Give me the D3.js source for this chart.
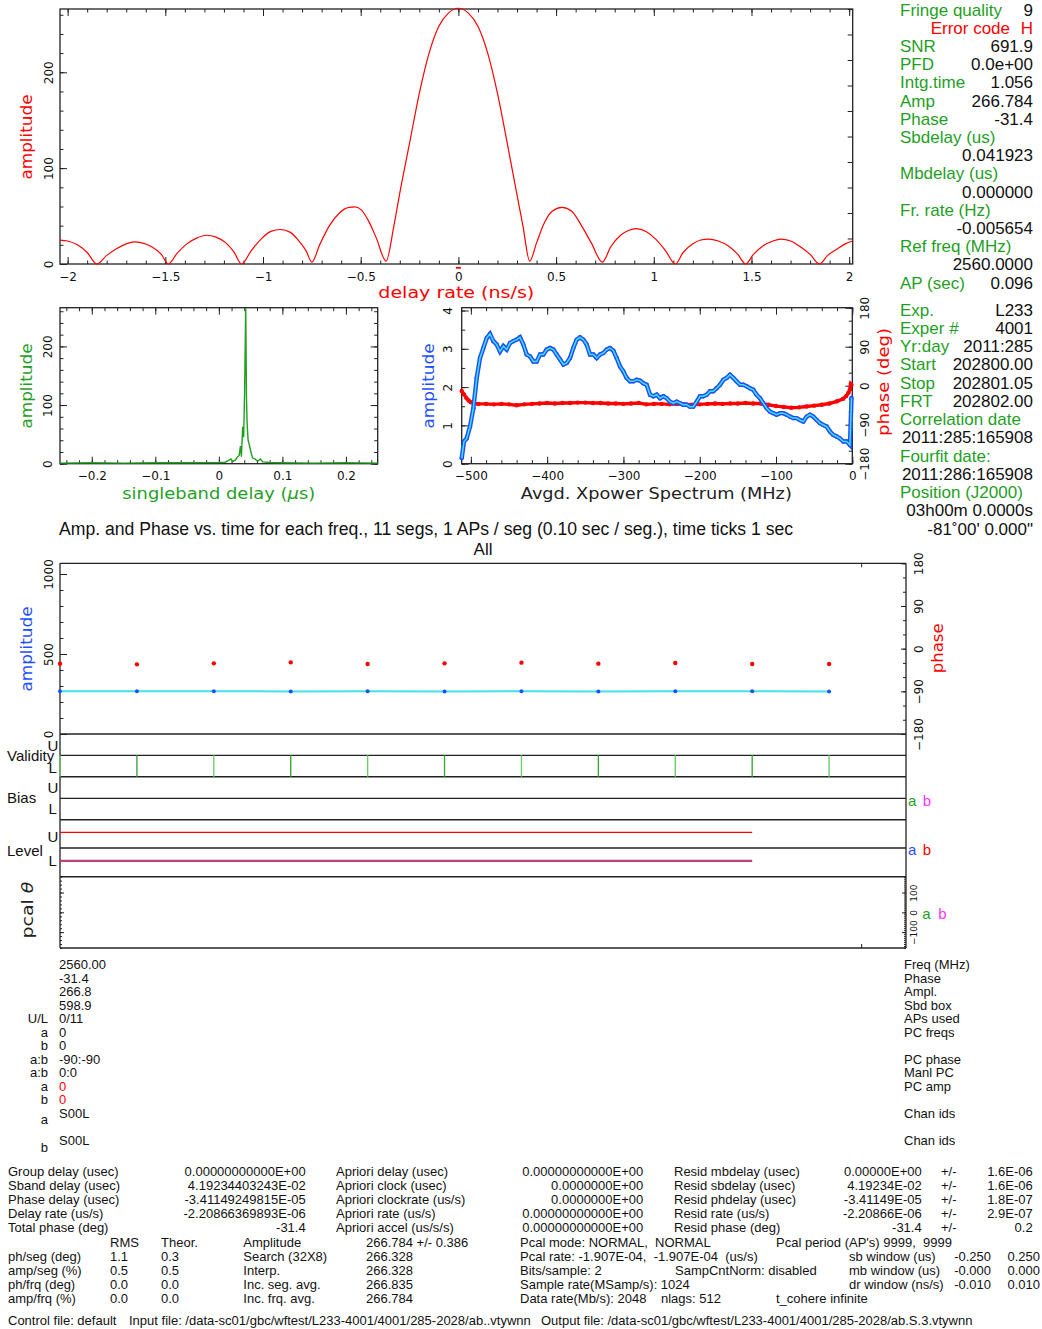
<!DOCTYPE html>
<html>
<head>
<meta charset="utf-8">
<script src="https://cdn.jsdelivr.net/npm/d3@7"></script>
<style>
  body { margin: 0; background: #fff; }
  svg { display: block; }
</style>
</head>
<body>
<script>
// ---- data ----
// delay-rate function (ns/s vs amplitude)
const rateX = [-2.039,-2.0,-1.95,-1.9,-1.85,-1.8,-1.75,-1.7,-1.66,-1.62,-1.57,-1.52,-1.485,-1.44,-1.39,-1.34,-1.29,-1.24,-1.19,-1.15,
  -1.11,-1.06,-1.01,-0.96,-0.91,-0.86,-0.82,-0.78,-0.75,-0.71,-0.66,-0.61,-0.56,-0.53,-0.5,-0.46,-0.42,-0.37,-0.33,-0.3,
  -0.25,-0.2,-0.15,-0.1,-0.05,0,0.05,0.1,0.15,0.2,0.25,0.3,0.33,0.365,0.4,0.44,0.48,0.53,0.58,0.63,
  0.68,0.737,0.78,0.83,0.87,0.91,0.96,1.01,1.06,1.11,1.15,1.2,1.24,1.28,1.33,1.38,1.43,1.47,1.51,1.56,
  1.61,1.65,1.7,1.75,1.8,1.848,1.89,1.94,1.98,2.018];
const rateAmp = [25,24,20,12,0,9,16,21,23,22,18,10,0,11,21,27,30,28,22,13,
  0,14,26,34,36,33,25,14,2,20,40,53,59,59.5,57,45,27,3,40,74,
  126,178,220,248,262,266.8,262,248,220,178,126,72,40,3,22,43,55,59,55,40,
  22,2,18,30,35,37,34,26,14,0,12,21,25,26,24,19,10,0,10,19,
  24,26,24,18,10,0,9,16,21,24];

// singleband delay function (us vs amplitude)
const sbdX = [-0.25,-0.2,-0.15,-0.1,-0.05,0,0.01,0.016,0.019,0.022,0.026,0.029,0.032,0.034,0.0355,0.0375,0.039,0.0405,0.0423,
  0.0435,0.0445,0.046,0.048,0.05,0.053,0.057,0.061,0.0655,0.069,0.08,0.1,0.15,0.2,0.25];
const sbdAmp = [1,1.5,1,1.5,1.5,2,2.5,6,8,4,6,11,14,30,12,63,45,120,266,
  110,69,40,32,22,10,8,4,8,3,2,1.5,1,1.5,1];

// averaged cross-power spectrum (MHz vs amplitude)
const specMHz = [-512,-509,-505.5,-501.1,-496.7,-492.3,-488.0,-483.6,-479.2,-474.9,-470.5,-466.1,-461.8,-457.4,-453.0,-448.7,
  -444.3,-439.9,-435.6,-431.2,-426.8,-422.4,-418.1,-413.7,-409.3,-405.0,-400.6,-396.2,-391.9,-387.5,-383.1,-378.8,
  -374.4,-370.0,-365.7,-361.3,-356.9,-352.6,-348.2,-343.8,-339.4,-335.1,-330.7,-326.3,-322.0,-317.6,-313.2,-308.9,
  -304.5,-300.1,-295.8,-291.4,-287.0,-282.6,-278.3,-273.9,-269.5,-265.2,-260.8,-256.4,-252.1,-247.7,-243.3,-239.0,
  -234.6,-230.2,-225.9,-221.5,-217.1,-212.8,-208.4,-204.0,-199.6,-195.3,-190.9,-186.5,-182.2,-177.8,-173.4,-169.1,
  -164.7,-160.3,-156.0,-151.6,-147.2,-142.9,-138.5,-134.1,-129.8,-125.4,-121.0,-116.6,-112.3,-107.9,-103.5,-99.2,
  -94.8,-90.4,-86.1,-81.7,-77.3,-73.0,-68.6,-64.2,-59.8,-55.5,-51.1,-46.7,-42.4,-38.0,-33.6,-29.3,
  -24.9,-20.5,-16.2,-11.8,-7.4,-3.1,-1.0];
const specAmp = [0.14,0.58,0.66,0.97,1.45,2.24,2.76,3.02,3.28,3.39,3.20,3.11,2.93,3.07,2.98,3.15,
  3.20,3.24,3.30,3.11,2.85,2.80,2.67,2.67,2.85,2.85,2.98,3.02,2.98,2.85,2.72,2.59,
  2.63,2.76,3.02,3.24,3.30,3.24,3.11,2.85,2.85,2.76,2.85,2.89,2.98,3.02,2.95,2.76,
  2.54,2.41,2.24,2.15,2.15,2.19,2.17,2.10,2.06,1.80,1.76,1.80,1.71,1.76,1.71,1.62,
  1.58,1.62,1.58,1.54,1.54,1.49,1.49,1.62,1.76,1.76,1.80,1.89,1.89,1.97,2.06,2.19,
  2.24,2.32,2.24,2.15,2.06,2.06,2.02,1.97,1.93,1.80,1.71,1.58,1.45,1.36,1.32,1.28,
  1.32,1.32,1.28,1.23,1.19,1.19,1.14,1.10,1.23,1.28,1.23,1.14,1.06,1.01,0.97,0.84,
  0.75,0.71,0.66,0.58,0.58,0.49,1.72];
// spectrum phase (MHz vs deg)
const phMHz = [-512,-509,-506,-503,-500,-496,-490,-480,-470,-460,-450,-440,-430,-420,-410,-400,-390,-380,-370,-360,
  -350,-340,-330,-320,-310,-300,-290,-280,-270,-260,-250,-240,-230,-220,-210,-200,-190,-180,-170,-160,
  -150,-140,-130,-120,-110,-100,-90,-80,-70,-60,-50,-40,-30,-20,-12,-8,-5,-3,-2,-1];
const phDeg = [-12,-20,-28,-34,-38,-41,-42,-42,-43,-42,-43,-45,-43,-42,-41,-40,-41,-40,-40,-39,
  -39,-40,-40,-41,-41,-42,-41,-40,-43,-42,-42,-43,-42,-43,-44,-43,-42,-41,-42,-41,
  -41,-40,-41,-41,-44,-47,-49,-51,-50,-48,-46,-44,-41,-36,-30,-24,-16,-8,4,2];

// per-segment values (11 segs of 0.096 s)
const segTime = [0, 0.096, 0.192, 0.288, 0.384, 0.48, 0.576, 0.672, 0.768, 0.864, 0.96];
const segAmp = [266.5, 266.9, 267.6, 266.3, 266.8, 265.9, 267.1, 266.0, 267.2, 266.6, 266.4];
const segPhase = [-31.6, -33.1, -31.0, -28.9, -32.3, -31.0, -29.5, -31.6, -30.2, -32.3, -32.3];
const segValidL = [1, 1, 1, 1, 1, 1, 1, 1, 1, 1, 1];
const levelU = [0.55, 0.55, 0.55, 0.55, 0.55, 0.55, 0.55, 0.55, 0.55, 0.55];
const levelL = [0.55, 0.55, 0.55, 0.55, 0.55, 0.55, 0.55, 0.55, 0.55, 0.55];

// text blocks
const fitLabels = ['Fringe quality', 'Error code', 'SNR', 'PFD', 'Intg.time', 'Amp', 'Phase', 'Sbdelay (us)', '',
  'Mbdelay (us)', '', 'Fr. rate (Hz)', '', 'Ref freq (MHz)', '', 'AP (sec)'];
const fitValues = ['9', 'H', '691.9', '0.0e+00', '1.056', '266.784', '-31.4', '', '0.041923',
  '', '0.000000', '', '-0.005654', '', '2560.0000', '0.096'];
const expLabels = ['Exp.', 'Exper #', 'Yr:day', 'Start', 'Stop', 'FRT', 'Correlation date', '', 'Fourfit date:', '',
  'Position (J2000)', '', ''];
const expValues = ['L233', '4001', '2011:285', '202800.00', '202801.05', '202802.00', '', '2011:285:165908', '',
  '2011:286:165908', '', '03h00m 0.0000s', '-81\u02DA00\' 0.000"'];

const chanLeft = ['', '', '', '', 'U/L', 'a', 'b', 'a:b', 'a:b', 'a', 'b'];
const chanVals = ['2560.00', '-31.4', '266.8', '598.9', '0/11', '0', '0', '-90:-90', '0:0', '0', '0'];
const chanRight = ['Freq (MHz)', 'Phase', 'Ampl.', 'Sbd box', 'APs used', 'PC freqs', '', 'PC phase', 'Manl PC', 'PC amp', ''];
const chanIds = [['a', 'S00L'], ['b', 'S00L']];

const resultRows = [
  ['Group delay (usec)', '0.00000000000E+00', 'Apriori delay (usec)', '0.00000000000E+00', 'Resid mbdelay (usec)', '0.00000E+00', '1.6E-06'],
  ['Sband delay (usec)', '4.19234403243E-02', 'Apriori clock (usec)', '0.0000000E+00', 'Resid sbdelay (usec)', '4.19234E-02', '1.6E-06'],
  ['Phase delay (usec)', '-3.41149249815E-05', 'Apriori clockrate (us/s)', '0.0000000E+00', 'Resid phdelay (usec)', '-3.41149E-05', '1.8E-07'],
  ['Delay rate (us/s)', '-2.20866369893E-06', 'Apriori rate (us/s)', '0.00000000000E+00', 'Resid rate (us/s)', '-2.20866E-06', '2.9E-07'],
  ['Total phase (deg)', '-31.4', 'Apriori accel (us/s/s)', '0.00000000000E+00', 'Resid phase (deg)', '-31.4', '0.2']
];
const qualityRows = [
  ['', 'RMS', 'Theor.', 'Amplitude', '266.784 +/- 0.386'],
  ['ph/seg (deg)', '1.1', '0.3', 'Search (32X8)', '266.328'],
  ['amp/seg (%)', '0.5', '0.5', 'Interp.', '266.328'],
  ['ph/frq (deg)', '0.0', '0.0', 'Inc. seg. avg.', '266.835'],
  ['amp/frq (%)', '0.0', '0.0', 'Inc. frq. avg.', '266.784']
];
const setupRows = [
  ['Pcal mode: NORMAL,  NORMAL', "Pcal period (AP's) 9999,  9999"],
  ['Pcal rate: -1.907E-04,  -1.907E-04  (us/s)'],
  ['Bits/sample: 2', 'SampCntNorm: disabled'],
  ['Sample rate(MSamp/s): 1024'],
  ['Data rate(Mb/s): 2048', 'nlags: 512', 't_cohere infinite']
];
const windowRows = [['sb window (us)', '-0.250', '0.250'], ['mb window (us)', '-0.000', '0.000'], ['dr window (ns/s)', '-0.010', '0.010']];
const fileLine = ['Control file: default',
  'Input file: /data-sc01/gbc/wftest/L233-4001/4001/285-2028/ab..vtywnn',
  'Output file: /data-sc01/gbc/wftest/L233-4001/4001/285-2028/ab.S.3.vtywnn'];
const plotTitle = 'Amp. and Phase vs. time for each freq., 11 segs, 1 APs / seg (0.10 sec / seg.), time ticks 1 sec';

// ---- drawing ----
const plotFont = "'DejaVu Sans', sans-serif";
const textFont = "'Liberation Sans', Arial, sans-serif";
const GREEN = '#1f9f1f', RED = '#ff0000', BLUE = '#1f4fff', CYAN = '#40e2ea', MAGENTA = '#ff33ff';

const svg = d3.select('body').append('svg').attr('width', 1042).attr('height', 1329);

function box(x0, y0, x1, y1) {
  svg.append('rect').attr('x', x0).attr('y', y0).attr('width', x1 - x0).attr('height', y1 - y0)
    .attr('fill', 'none').attr('stroke', '#222').attr('stroke-width', 1.3);
}

function hline(y, x0, x1, w) {
  svg.append('line').attr('x1', x0).attr('x2', x1).attr('y1', y).attr('y2', y)
    .attr('stroke', '#222').attr('stroke-width', w || 1.3);
}

// inward PGPLOT-like ticks
function axis(scale, side, at, majors, minors, o = {}) {
  const make = {bottom: d3.axisBottom, top: d3.axisTop, left: d3.axisLeft, right: d3.axisRight}[side];
  const tr = (side === 'bottom' || side === 'top') ? `translate(0,${at})` : `translate(${at},0)`;
  const tidy = s => { s.select('.domain').remove(); s.style('color', '#222'); };
  if (minors) {
    svg.append('g').attr('transform', tr)
      .call(make(scale).tickValues(minors).tickSize(-(o.minor || 3.5)).tickFormat(''))
      .call(tidy);
  }
  const a = svg.append('g').attr('transform', tr)
    .call(make(scale).tickValues(majors).tickSize(-(o.major || 7)).tickPadding(o.pad || 8.5)
      .tickFormat(o.labels ? (o.fmt || d3.format('')) : ''))
    .call(tidy);
  a.selectAll('text').style('font-family', plotFont).style('font-size', (o.size || 12) + 'px').style('fill', '#111');
  if (o.rotate) {
    a.selectAll('text').attr('transform', 'rotate(-90)').attr('x', 0).attr('dy', 0)
      .attr('y', side === 'left' ? -o.rotate : o.rotate).attr('text-anchor', 'middle');
  }
  return a;
}

function axisTitle(x, y, color, len, rotated, size) {
  const t = svg.append('text').attr('fill', color)
    .style('font-family', plotFont).style('font-size', (size || 16) + 'px')
    .attr('text-anchor', 'middle').attr('textLength', len).attr('lengthAdjust', 'spacingAndGlyphs');
  if (rotated) t.attr('transform', `translate(${x},${y}) rotate(-90)`);
  else t.attr('x', x).attr('y', y);
  return t;
}

function txt(s, x, y, o = {}) {
  return svg.append('text').attr('x', x).attr('y', y).text(s)
    .attr('text-anchor', o.anchor || 'start').attr('fill', o.color || '#111')
    .style('font-family', o.font || textFont).style('font-size', (o.size || 13) + 'px')
    .style('white-space', 'pre');
}

// ===== delay rate panel =====
{
  const x = d3.scaleLinear().domain([-2.039, 2.018]).range([60, 852.7]);
  const y = d3.scaleLinear().domain([0, 266]).range([264, 9]);
  const yr = d3.scaleLinear().domain([0, 10]).range([264, 9]);
  box(60, 9, 852.7, 264);
  axis(x, 'bottom', 264, d3.range(-2, 2.01, 0.5), d3.range(-2, 2.01, 0.1), {labels: true});
  axis(x, 'top', 9, d3.range(-2, 2.01, 0.5), d3.range(-2, 2.01, 0.1));
  axis(y, 'left', 60, [0, 100, 200], d3.range(0, 261, 20), {labels: true, rotate: 6.7});
  axis(yr, 'right', 852.7, d3.range(1, 10.1, 1), null, {major: 5});
  const pts = rateX.map((d, i) => [d, rateAmp[i]]);
  svg.append('path').datum(pts)
    .attr('d', d3.line().x(d => x(d[0])).y(d => y(d[1])).curve(d3.curveMonotoneX))
    .attr('fill', 'none').attr('stroke', RED).attr('stroke-width', 1.2);
  const peak = pts[d3.maxIndex(pts, d => d[1])];
  svg.append('line').attr('x1', x(peak[0]) - 2.5).attr('x2', x(peak[0]) + 2.5).attr('y1', 267.8).attr('y2', 267.8)
    .attr('stroke', RED).attr('stroke-width', 1.8);
  axisTitle(32, 137, RED, 85, true).text('amplitude');
  axisTitle(456.3, 298, RED, 156).text('delay rate (ns/s)');
}

// ===== singleband delay panel =====
{
  const x = d3.scaleLinear().domain([-0.25, 0.25]).range([60, 377.7]);
  const y = d3.scaleLinear().domain([0, 266]).range([463.7, 307.7]);
  box(60, 307.7, 377.7, 463.7);
  axis(x, 'bottom', 463.7, [-0.2, -0.1, 0, 0.1, 0.2], d3.range(-0.24, 0.25, 0.02), {labels: true, pad: 8});
  axis(x, 'top', 307.7, [-0.2, -0.1, 0, 0.1, 0.2], d3.range(-0.24, 0.25, 0.02));
  axis(y, 'left', 60, [0, 100, 200], d3.range(0, 261, 20), {labels: true, rotate: 8.3});
  axis(y, 'right', 377.7, [0, 100, 200], d3.range(0, 261, 20));
  svg.append('path').datum(sbdX.map((d, i) => [d, sbdAmp[i]]))
    .attr('d', d3.line().x(d => x(d[0])).y(d => y(d[1])))
    .attr('fill', 'none').attr('stroke', GREEN).attr('stroke-width', 1.4);
  axisTitle(32, 386, GREEN, 85, true).text('amplitude');
  const t = axisTitle(218.8, 499, GREEN, 193);
  t.append('tspan').text('singleband delay (');
  t.append('tspan').style('font-style', 'italic').text('\u03BC');
  t.append('tspan').text('s)');
}

// ===== cross power spectrum panel =====
{
  const x = d3.scaleLinear().domain([-512, 0]).range([461.7, 852.3]);
  const y = d3.scaleLinear().domain([0, 4]).range([463.7, 310.5]);
  const yp = d3.scaleLinear().domain([-180, 180]).range([463.7, 307.7]);
  box(461.7, 307.7, 852.3, 463.7);
  axis(x, 'bottom', 463.7, d3.range(-500, 1, 100), d3.range(-500, 1, 20), {labels: true, pad: 8});
  axis(x, 'top', 307.7, d3.range(-500, 1, 100), d3.range(-500, 1, 20));
  axis(y, 'left', 461.7, [0, 1, 2, 3, 4], d3.range(0, 4.01, 0.5), {labels: true, rotate: 10});
  axis(yp, 'right', 852.3, [-180, -90, 0, 90, 180], d3.range(-180, 181, 30), {labels: true, rotate: 17});
  const amp = specMHz.map((d, i) => [d, specAmp[i]]);
  const ph = phMHz.map((d, i) => [d, phDeg[i]]);
  const la = d3.line().x(d => x(d[0])).y(d => y(d[1]));
  const lp = d3.line().x(d => x(d[0])).y(d => yp(d[1]));
  svg.append('path').datum(ph).attr('d', lp).attr('fill', 'none').attr('stroke', RED).attr('stroke-width', 3.4);
  svg.append('g').selectAll('circle').data(ph).join('circle')
    .attr('cx', d => x(d[0])).attr('cy', d => yp(d[1])).attr('r', 2.2).attr('fill', RED);
  svg.append('path').datum(amp).attr('d', la).attr('fill', 'none').attr('stroke', BLUE).attr('stroke-width', 4.4);
  svg.append('g').selectAll('circle').data(amp).join('circle')
    .attr('cx', d => x(d[0])).attr('cy', d => y(d[1])).attr('r', 2.2).attr('fill', BLUE);
  svg.append('path').datum(amp).attr('d', la).attr('fill', 'none').attr('stroke', CYAN).attr('stroke-width', 1.5);
  axisTitle(434, 386, BLUE, 85, true).text('amplitude');
  axisTitle(889, 382, RED, 108, true).text('phase (deg)');
  axisTitle(656.3, 499.3, '#222', 271).text('Avgd. Xpower Spectrum (MHz)');
}

// ===== right-hand fit summary =====
fitLabels.forEach((l, i) => {
  const yb = 15.5 + 18.2 * i;
  if (i === 1) {
    txt(l, 1010, yb, {anchor: 'end', color: RED, size: 17});
    txt(fitValues[i], 1033, yb, {anchor: 'end', color: RED, size: 17});
    return;
  }
  if (l) txt(l, 900, yb, {color: GREEN, size: 17});
  if (fitValues[i]) txt(fitValues[i], 1033, yb, {anchor: 'end', size: 17});
});
expLabels.forEach((l, i) => {
  const yb = 315.5 + 18.25 * i;
  if (l) txt(l, 900, yb, {color: GREEN, size: 17});
  if (expValues[i]) txt(expValues[i], 1033, yb, {anchor: 'end', size: 17});
});

// ===== amplitude / phase vs time =====
txt(plotTitle, 59, 535, {size: 17.6});
txt('All', 483, 555, {anchor: 'middle', size: 17});
{
  const x = d3.scaleLinear().domain([0, 1.056]).range([60, 906]);
  const ya = d3.scaleLinear().domain([0, 1000]).range([734, 574]);
  const yp = d3.scaleLinear().domain([-180, 180]).range([734, 563.3]);
  const rows = [563.3, 734, 755.3, 776.7, 798.3, 819.7, 848, 876.7, 948];
  rows.forEach((r, i) => hline(r, 60, 906, i === 1 || i === 3 || i === 5 || i === 7 ? 1.6 : 1.3));
  svg.append('line').attr('x1', 60).attr('x2', 60).attr('y1', 563.3).attr('y2', 948).attr('stroke', '#222').attr('stroke-width', 1.3);
  svg.append('line').attr('x1', 906).attr('x2', 906).attr('y1', 563.3).attr('y2', 948).attr('stroke', '#222').attr('stroke-width', 1.3);

  axis(ya, 'left', 60, [0, 500, 1000], d3.range(0, 1001, 100), {labels: true, rotate: 7.3});
  axis(yp, 'right', 906, [-180, -90, 0, 90, 180], d3.range(-180, 181, 30), {labels: true, rotate: 16.7, major: 5, minor: 3});
  axis(x, 'top', 563.3, [1], null, {major: 4});
  axis(x, 'bottom', 948, [1], null, {major: 4});

  const pa = segTime.map((t, i) => [t, segAmp[i]]);
  svg.append('path').datum(pa).attr('d', d3.line().x(d => x(d[0])).y(d => ya(d[1])))
    .attr('fill', 'none').attr('stroke', CYAN).attr('stroke-width', 2);
  svg.append('g').selectAll('circle').data(pa).join('circle')
    .attr('cx', d => x(d[0])).attr('cy', d => ya(d[1])).attr('r', 2).attr('fill', BLUE);
  svg.append('g').selectAll('circle').data(segPhase).join('circle')
    .attr('cx', (d, i) => x(segTime[i])).attr('cy', d => yp(d)).attr('r', 2.2).attr('fill', RED);

  // validity (L sideband)
  const yv = d3.scaleLinear().domain([0, 1]).range([776.7, 755.3]);
  svg.append('g').selectAll('line').data(segValidL).join('line')
    .attr('x1', (d, i) => x(segTime[i])).attr('x2', (d, i) => x(segTime[i]))
    .attr('y1', yv(0)).attr('y2', d => yv(d))
    .attr('stroke', (d, i) => i % 2 ? '#3aaa3a' : '#6fcc6f').attr('stroke-width', 1.4);

  // state count levels
  const yu = d3.scaleLinear().domain([0, 1]).range([848, 819.7]);
  const yl = d3.scaleLinear().domain([0, 1]).range([876.7, 848]);
  svg.append('path').datum(levelU).attr('d', d3.line().x((d, i) => x(segTime[i])).y(d => yu(d)))
    .attr('fill', 'none').attr('stroke', RED).attr('stroke-width', 1.3);
  svg.append('path').datum(levelL).attr('d', d3.line().x((d, i) => x(segTime[i])).y(d => yl(d)))
    .attr('fill', 'none').attr('stroke', '#b8427c').attr('stroke-width', 2.2);

  // pcal phase axis
  const yc = d3.scaleLinear().domain([-180, 180]).range([948, 876.7]);
  axis(yc, 'left', 60, [-100, 0, 100], d3.range(-180, 181, 20), {major: 4, minor: 2});
  axis(yc, 'right', 906, [-100, 0, 100], d3.range(-180, 181, 10), {labels: true, rotate: 11.3, size: 9, major: 4, minor: 2});

  axisTitle(32, 649, BLUE, 85, true).text('amplitude');
  axisTitle(943, 648.3, RED, 50, true).text('phase');
  const pc = axisTitle(33, 910, '#222', 57, true);
  pc.append('tspan').text('pcal ');
  pc.append('tspan').style('font-style', 'italic').text('\u03B8');

  // row labels
  txt('Validity', 7, 760.7, {size: 15});
  txt('U', 47.5, 750.7, {size: 15});
  txt('L', 48.5, 773.3, {size: 15});
  txt('Bias', 7, 803.3, {size: 15});
  txt('U', 47.5, 793.3, {size: 15});
  txt('L', 48.5, 814, {size: 15});
  txt('Level', 7, 856, {size: 15});
  txt('U', 47.5, 842.3, {size: 15});
  txt('L', 48.5, 866, {size: 15});
  txt('a', 908, 806, {size: 15, color: GREEN});
  txt('b', 922.7, 806, {size: 15, color: MAGENTA});
  txt('a', 908, 855, {size: 15, color: BLUE});
  txt('b', 922.7, 855, {size: 15, color: RED});
  txt('a', 922.3, 919, {size: 15, color: GREEN});
  txt('b', 938.3, 919, {size: 15, color: MAGENTA});
}

// ===== per-channel table =====
chanVals.forEach((v, i) => {
  const yb = 969 + 13.5 * i;
  if (chanLeft[i]) txt(chanLeft[i], 48, yb, {anchor: 'end'});
  txt(v, 59, yb, {color: i >= 9 ? RED : '#111'});
  if (chanRight[i]) txt(chanRight[i], 904, yb);
});
chanIds.forEach((c, i) => {
  const yb = 1117.5 + 27.3 * i;
  txt(c[0], 48, yb + 6.8, {anchor: 'end'});
  txt(c[1], 59, yb);
  txt('Chan ids', 904, yb);
});

// ===== fit results table =====
resultRows.forEach((r, i) => {
  const yb = 1175.5 + 14.2 * i;
  txt(r[0], 8, yb);
  txt(r[1], 305.7, yb, {anchor: 'end'});
  txt(r[2], 336, yb);
  txt(r[3], 643.3, yb, {anchor: 'end'});
  txt(r[4], 674, yb);
  txt(r[5], 921.7, yb, {anchor: 'end'});
  txt('+/-', 941, yb);
  txt(r[6], 1032.7, yb, {anchor: 'end'});
});
qualityRows.forEach((r, i) => {
  const yb = 1175.5 + 14.2 * (i + 5);
  [8, 110, 161, 243.3, 366].forEach((cx, j) => { if (r[j]) txt(r[j], cx, yb); });
});
{
  const yb = i => 1175.5 + 14.2 * (i + 5);
  txt(setupRows[0][0], 520, yb(0)); txt(setupRows[0][1], 776, yb(0));
  txt(setupRows[1][0], 520, yb(1));
  txt(setupRows[2][0], 520, yb(2)); txt(setupRows[2][1], 675, yb(2));
  txt(setupRows[3][0], 520, yb(3));
  txt(setupRows[4][0], 520, yb(4)); txt(setupRows[4][1], 661, yb(4)); txt(setupRows[4][2], 776, yb(4));
  windowRows.forEach((w, i) => {
    txt(w[0], 849, yb(i + 1));
    txt(w[1], 991, yb(i + 1), {anchor: 'end'});
    txt(w[2], 1040, yb(i + 1), {anchor: 'end'});
  });
}
txt(fileLine[0], 8, 1324.5);
txt(fileLine[1], 129, 1324.5);
txt(fileLine[2], 541, 1324.5);
</script>
</body>
</html>
